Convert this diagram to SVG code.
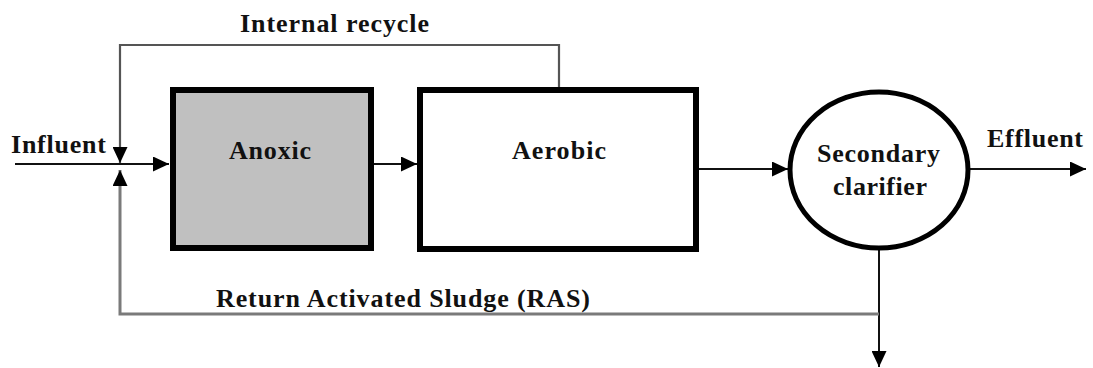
<svg xmlns="http://www.w3.org/2000/svg" width="1093" height="368" viewBox="0 0 1093 368">
<style>
.t{font-family:"Liberation Serif","Times New Roman",serif;font-weight:bold;font-size:26px;fill:#111}
.c{fill:none;stroke:#111;stroke-width:2}
.g{fill:none;stroke:#555;stroke-width:2.2}
.r{fill:none;stroke:#7a7a7a;stroke-width:3}
.box{stroke:#000;stroke-width:6}
</style>
<defs>
<marker id="ah" markerUnits="userSpaceOnUse" markerWidth="16" markerHeight="15" refX="16" refY="7.5" orient="auto">
<path d="M0,0 L16,7.5 L0,15 Z" fill="#000"/>
</marker>
</defs>
<g id="connectors">
<path class="g" d="M559,90 V45 H120 V163" marker-end="url(#ah)"/>
<path class="c" d="M15,164 H169" marker-end="url(#ah)"/>
<path class="c" d="M374,164 H417" marker-end="url(#ah)"/>
<path class="c" d="M699,169 H788" marker-end="url(#ah)"/>
<path class="c" d="M970,169 H1086" marker-end="url(#ah)"/>
<path class="c" d="M879,250 V367" marker-end="url(#ah)"/>
<path class="r" d="M879,314 H120 V170" marker-end="url(#ah)"/>
</g>
<g id="label-internal"><text class="t" x="240" y="32" textLength="189">Internal recycle</text></g>
<g id="label-influent"><text class="t" x="11" y="153" textLength="95">Influent</text></g>
<g id="label-effluent"><text class="t" x="987" y="147" textLength="96">Effluent</text></g>
<g id="label-ras"><text class="t" x="216" y="307" textLength="374">Return Activated Sludge (RAS)</text></g>
<g id="anoxic">
<rect class="box" x="173" y="90" width="198" height="158" fill="#c0c0c0"/>
<text class="t" x="229" y="159" textLength="82">Anoxic</text>
</g>
<g id="aerobic">
<rect class="box" x="420" y="90" width="276" height="159" fill="#fff"/>
<text class="t" x="512" y="159" textLength="94">Aerobic</text>
</g>
<g id="clarifier">
<ellipse cx="879" cy="170" rx="89" ry="78" fill="#fff" stroke="#000" stroke-width="5"/>
<text class="t" x="817" y="162" textLength="123">Secondary</text>
<text class="t" x="833" y="195" textLength="94">clarifier</text>
</g>
</svg>
